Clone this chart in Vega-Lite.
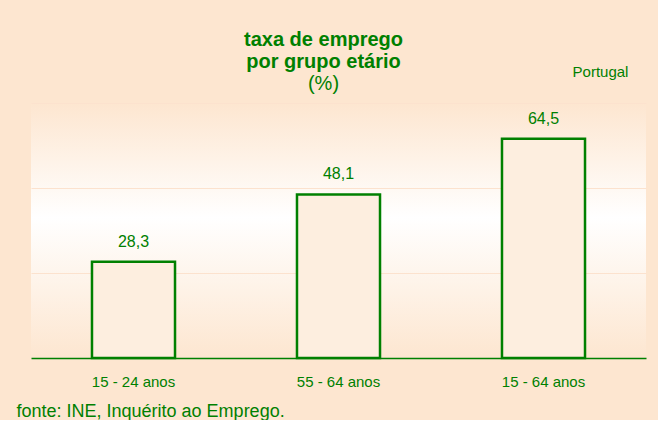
{
  "$schema": "https://vega.github.io/schema/vega-lite/v6.json",
  "width": 615,
  "height": 255,
  "padding": {"left": 16, "top": 30, "right": 12, "bottom": 0},
  "background": "#fde6d0",
  "config": {
    "font": "Liberation Sans",
    "locale": {"number": {"decimal": ",", "thousands": ".", "grouping": [3], "currency": ["", " €"]}},
    "view": {
      "stroke": null,
      "fill": {
        "gradient": "linear",
        "x1": 0, "y1": 0, "x2": 0, "y2": 1,
        "stops": [
          {"offset": 0, "color": "#fde6d0"},
          {"offset": 0.45, "color": "#ffffff"},
          {"offset": 1, "color": "#fde6d0"}
        ]
      }
    }
  },
  "title": {
    "text": ["taxa de emprego", "por grupo etário"],
    "subtitle": "(%)",
    "fontSize": 20,
    "fontWeight": "bold",
    "color": "#008000",
    "subtitleFontSize": 20,
    "subtitleColor": "#008000",
    "subtitleFont": "Liberation Sans",
    "subtitlePadding": 2,
    "subtitleLineHeight": 22,
    "lineHeight": 22,
    "anchor": "middle",
    "dx": -15,
    "offset": -29
  },
  "data": {
    "values": [
      {"grupo": "15 - 24 anos", "taxa": 28.3},
      {"grupo": "55 - 64 anos", "taxa": 48.1},
      {"grupo": "15 - 64 anos", "taxa": 64.5}
    ]
  },
  "encoding": {
    "x": {
      "field": "grupo",
      "type": "nominal",
      "sort": null,
      "scale": {"paddingInner": 0.595, "paddingOuter": 0.2975},
      "axis": {
        "title": "fonte: INE, Inquérito ao Emprego.",
        "titleFont": "Liberation Sans",
        "titleFontSize": 18,
        "titleFontWeight": "normal",
        "titleColor": "#008000",
        "titleAnchor": "start",
        "titleAlign": "left",
        "titleX": -15,
        "titlePadding": 13,
        "labelAngle": 0,
        "labelFontSize": 15,
        "labelColor": "#008000",
        "labelPadding": 16,
        "ticks": false,
        "domainColor": "#008000",
        "domainWidth": 1.5,
        "grid": false
      }
    },
    "y": {
      "field": "taxa",
      "type": "quantitative",
      "scale": {"domain": [0, 75]},
      "axis": {
        "title": null,
        "labels": false,
        "ticks": false,
        "domain": false,
        "values": [25, 50, 75],
        "grid": true,
        "gridColor": "#fce2ce",
        "gridWidth": 1
      }
    }
  },
  "layer": [
    {
      "mark": {"type": "bar", "fill": "#fdeedf", "stroke": "#008000", "strokeWidth": 2.5}
    },
    {
      "mark": {"type": "text", "baseline": "alphabetic", "dy": -15, "fontSize": 16, "color": "#008000"},
      "encoding": {"text": {"field": "taxa", "type": "quantitative", "format": ".1f"}}
    },
    {
      "data": {"values": [{"grupo": "15 - 64 anos", "taxa": 82.6, "label": "Portugal"}]},
      "mark": {"type": "text", "baseline": "alphabetic", "dx": 57, "fontSize": 15, "color": "#008000", "clip": false},
      "encoding": {"text": {"field": "label"}}
    }
  ]
}
